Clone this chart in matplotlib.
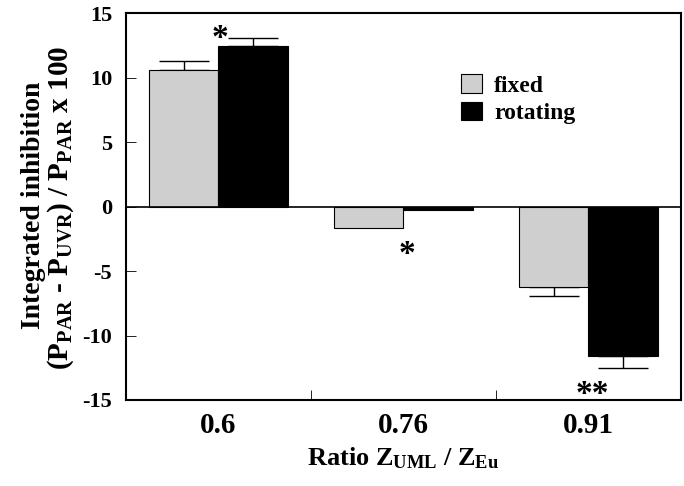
import numpy as np
import matplotlib
matplotlib.use("Agg")
import matplotlib.pyplot as plt

# bold Times-like look everywhere, including the subscripts in mathtext
plt.rcParams['font.family'] = ['Liberation Serif', 'DejaVu Serif']
plt.rcParams['font.weight'] = 'bold'
plt.rcParams['axes.labelweight'] = 'bold'
plt.rcParams['mathtext.fontset'] = 'custom'
plt.rcParams['mathtext.rm'] = 'Liberation Serif:bold'
plt.rcParams['mathtext.it'] = 'Liberation Serif:bold'
plt.rcParams['mathtext.bf'] = 'Liberation Serif:bold'

# data
ratios = ['0.6', '0.76', '0.91']
fixed = [10.6, -1.65, -6.25]
fixed_err = [0.65, 0.0, 0.7]
rotating = [12.45, -0.25, -11.6]
rotating_err = [0.6, 0.0, 0.9]
stars = ['*', '*', '**']
star_x = [0.01, 1.02, 2.02]
star_y = [13.0, -3.75, -14.6]

fig = plt.figure(figsize=(6.84, 4.86), dpi=100)
ax = fig.add_axes([0.1842, 0.177, 0.8114, 0.796])

x = np.arange(len(ratios))
w = 0.378

def one_sided(vals, errs):
    lo = [e if v < 0 else 0 for v, e in zip(vals, errs)]
    hi = [e if v >= 0 else 0 for v, e in zip(vals, errs)]
    return [lo, hi]

ax.bar(x - w / 2, fixed, w, color='#cfcfcf', edgecolor='black', linewidth=0.8,
       label='fixed', zorder=2)
ax.bar(x + w / 2, rotating, w, color='black', edgecolor='black', linewidth=0.8,
       label='rotating', zorder=2)

for pos, vals, errs in [(x - w / 2, fixed, fixed_err), (x + w / 2, rotating, rotating_err)]:
    keep = np.array(errs) > 0
    vv = np.array(vals)[keep]
    ee = np.array(errs)[keep]
    ax.errorbar(pos[keep], vv, yerr=one_sided(vv, ee), fmt='none', ecolor='black',
                elinewidth=1.0, capsize=18, capthick=1.0, zorder=1)

ax.axhline(0, color='black', linewidth=1.2, zorder=3)

for sx, sy, s in zip(star_x, star_y, stars):
    ax.text(sx, sy, s, ha='center', va='center', fontsize=24, fontweight='bold',
            clip_on=False)

ax.set_xlim(-0.5, 2.5)
ax.set_ylim(-15, 15)
ax.set_yticks([-15, -10, -5, 0, 5, 10, 15])
ax.set_yticklabels(['-15', '-10', '-5', '0', '5', '10', '15'])
ax.set_xticks(x)
ax.set_xticklabels(ratios)
ax.set_xticks([0.5, 1.5], minor=True)
ax.tick_params(axis='x', which='major', length=0, pad=9, labelsize=21)
ax.tick_params(axis='x', which='minor', direction='in', length=7, width=0.6)
ax.tick_params(axis='y', direction='in', length=7, width=0.6, pad=10, labelsize=16)

for sp in ax.spines.values():
    sp.set_linewidth(1.5)

ax.set_xlabel(r'Ratio $\mathrm{Z_{UML}}$ / $\mathrm{Z_{Eu}}$', fontsize=19, labelpad=4)

# two-line y label, placed as separate texts to keep the tight line pitch
fig.text(0.0490, 0.578, 'Integrated inhibition', rotation=90, ha='center',
         va='center', fontsize=20, fontweight='bold')
fig.text(0.0885, 0.572,
         r'$\mathrm{(P_{PAR}}$ - $\mathrm{P_{UVR})}$ / $\mathrm{P_{PAR}}$ x 100',
         rotation=90, ha='center', va='center', fontsize=21, fontweight='bold')

ax.legend(loc='upper left', bbox_to_anchor=(0.604, 0.842), frameon=False, fontsize=17,
          handlelength=0.9, handleheight=0.85, handletextpad=0.5, labelspacing=0.2,
          borderpad=0, borderaxespad=0)

fig.savefig('out.png', dpi=100)
